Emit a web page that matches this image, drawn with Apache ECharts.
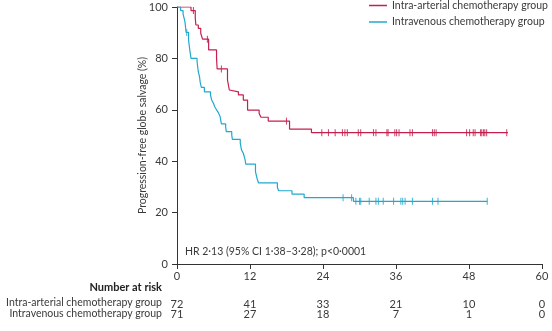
<!DOCTYPE html>
<html>
<head>
<meta charset="utf-8">
<script src="https://cdn.jsdelivr.net/npm/echarts@6/dist/echarts.min.js"></script>
<style>
  html, body { margin: 0; padding: 0; background: #fff; }
  #chart { width: 552px; height: 331px; }
</style>
</head>
<body>
<div id="chart"></div>
<script>
// Kaplan-Meier steps: [month, progression-free globe salvage %]
const stepsIntraArterial = [
  [0, 100], [2.3, 98.6], [3.0, 95.8], [3.1, 93.0], [3.5, 91.7], [3.9, 89.8],
  [4.2, 87.5], [5.2, 83.3], [6.5, 80.0], [6.6, 75.9], [8.3, 71.6], [8.6, 67.7],
  [8.8, 67.0], [10.1, 65.8], [10.9, 63.8], [11.6, 59.9], [13.5, 58.6],
  [13.8, 57.1], [15.0, 55.6], [18.5, 52.5], [22.1, 51.1], [54.4, 51.1]
];
const stepsIntravenous = [
  [0, 100], [0.6, 98.6], [1.0, 97.2], [1.3, 94.4], [1.5, 90.1], [1.9, 87.2],
  [2.0, 85.2], [2.1, 83.3], [2.3, 80.0], [3.3, 78.7], [3.5, 74.8], [3.7, 72.9],
  [3.8, 70.9], [4.0, 68.7], [4.5, 67.0], [5.5, 65.8], [5.7, 63.8], [6.0, 62.5],
  [6.2, 61.2], [6.5, 60.0], [6.8, 58.9], [7.1, 57.3], [7.2, 55.8], [7.3, 54.5],
  [8.0, 53.2], [8.1, 51.5], [9.0, 50.2], [9.1, 48.5], [10.4, 47.0], [10.6, 44.4],
  [10.9, 43.1], [11.2, 40.5], [11.3, 38.9], [12.9, 35.9], [13.2, 32.9],
  [13.4, 31.6], [16.5, 29.8], [16.7, 28.5], [18.9, 27.2], [20.9, 25.8],
  [29.0, 24.4], [51.0, 24.4]
];

// Censoring times (months)
const censorIntraArterial = [
  2.7, 5.0, 7.3, 18.0, 23.8, 24.9, 26.0, 27.2, 27.6, 28.0, 29.8, 30.2, 32.3,
  32.7, 34.5, 34.7, 35.8, 36.1, 36.5, 38.3, 38.7, 42.0, 42.3, 42.6, 47.6, 48.1,
  48.7, 49.0, 49.9, 50.1, 50.4, 50.6, 50.9, 54.2
];
const censorIntravenous = [
  1.6, 27.3, 28.7, 29.4, 30.0, 30.2, 31.6, 32.7, 33.1, 33.9, 35.6, 36.8, 37.1,
  37.5, 38.7, 42.0, 42.9, 51.0
];

// Number at risk table
const riskMonths = [0, 12, 24, 36, 48, 60];
const riskIntraArterial = [72, 41, 33, 21, 10, 0];
const riskIntravenous = [71, 27, 18, 7, 1, 0];

const groupNames = ['Intra-arterial chemotherapy group', 'Intravenous chemotherapy group'];
const hrText = 'HR 2\u00b713 (95% CI 1\u00b738\u20133\u00b728); p<0\u00b70001';

const RED = '#c41f4e';
const BLUE = '#1fa9d0';
const TEXT = '#3a3a3a';
const FONT = 'Lato, sans-serif';
const FS = 11;       // tick labels
const FS_TEXT = 10.5; // legend, row labels, notes

// survival value of a step curve at time t
function survivalAt(steps, t) {
  let s = steps[0][1];
  for (const [tt, v] of steps) { if (tt <= t) s = v; else break; }
  return s;
}
const censorPoints = (steps, times) => times.map(t => [t, survivalAt(steps, t)]);

const chart = echarts.init(document.getElementById('chart'), null, { renderer: 'canvas' });

const riskAxis = (values, offset) => ({
  type: 'value', min: 0, max: 60, interval: 12, position: 'bottom', offset: offset,
  axisLine: { show: false }, axisTick: { show: false }, splitLine: { show: false },
  axisLabel: {
    showMinLabel: true, showMaxLabel: true, margin: 0,
    color: TEXT, fontFamily: FONT, fontSize: FS,
    formatter: v => { const i = riskMonths.indexOf(v); return i < 0 ? '' : String(values[i]); }
  }
});

chart.setOption({
  animation: false,
  textStyle: { fontFamily: FONT },
  grid: { left: 177, right: 10, top: 7, bottom: 67, containLabel: false },
  legend: {
    data: groupNames,
    orient: 'vertical', left: 369, top: 0, padding: 0,
    icon: 'rect', itemWidth: 18, itemHeight: 1.5, itemGap: 5.5,
    textStyle: { color: TEXT, fontFamily: FONT, fontSize: FS_TEXT }
  },
  xAxis: [
    {
      type: 'value', min: 0, max: 60, interval: 12,
      axisLine: { lineStyle: { color: '#333', width: 1 } },
      axisTick: { show: true, length: 5, lineStyle: { color: '#333' } },
      splitLine: { show: false },
      axisLabel: { color: TEXT, fontFamily: FONT, fontSize: FS, margin: 7, showMinLabel: true, showMaxLabel: true }
    },
    riskAxis(riskIntraArterial, 35),
    riskAxis(riskIntravenous, 44.5)
  ],
  yAxis: {
    type: 'value', min: 0, max: 100, interval: 20,
    name: 'Progression-free globe salvage (%)', nameLocation: 'middle', nameGap: 29,
    nameMoveOverlap: false,
    nameTextStyle: { color: TEXT, fontFamily: FONT, fontSize: FS_TEXT },
    axisLine: { show: true, lineStyle: { color: '#333', width: 1 } },
    axisTick: { show: true, length: 5, lineStyle: { color: '#333' } },
    splitLine: { show: false },
    axisLabel: { color: TEXT, fontFamily: FONT, fontSize: FS, margin: 9 }
  },
  series: [
    {
      name: groupNames[0], type: 'line', step: 'end', data: stepsIntraArterial,
      showSymbol: false, lineStyle: { color: RED, width: 1.2 }, itemStyle: { color: RED }, z: 3
    },
    {
      name: groupNames[1], type: 'line', step: 'end', data: stepsIntravenous,
      showSymbol: false, lineStyle: { color: BLUE, width: 1.2 }, itemStyle: { color: BLUE }, z: 3
    },
    {
      name: 'censor-ia', type: 'scatter', data: censorPoints(stepsIntraArterial, censorIntraArterial),
      symbol: 'rect', symbolSize: [1.1, 7], itemStyle: { color: RED }, z: 4
    },
    {
      name: 'censor-iv', type: 'scatter', data: censorPoints(stepsIntravenous, censorIntravenous),
      symbol: 'rect', symbolSize: [1.1, 7], itemStyle: { color: BLUE }, z: 4
    }
  ],
  graphic: [
    { type: 'text', left: 185, top: 246, style: { text: hrText, fill: TEXT, font: FS_TEXT + 'px ' + FONT } },
    { type: 'text', right: 552 - 162, top: 282, style: { text: 'Number at risk', fill: '#222', font: 'bold ' + FS + 'px ' + FONT, textAlign: 'right' } },
    { type: 'text', right: 552 - 162, top: 297, style: { text: groupNames[0], fill: TEXT, font: FS_TEXT + 'px ' + FONT, textAlign: 'right' } },
    { type: 'text', right: 552 - 162, top: 308, style: { text: groupNames[1], fill: TEXT, font: FS_TEXT + 'px ' + FONT, textAlign: 'right' } }
  ]
});
</script>
</body>
</html>
